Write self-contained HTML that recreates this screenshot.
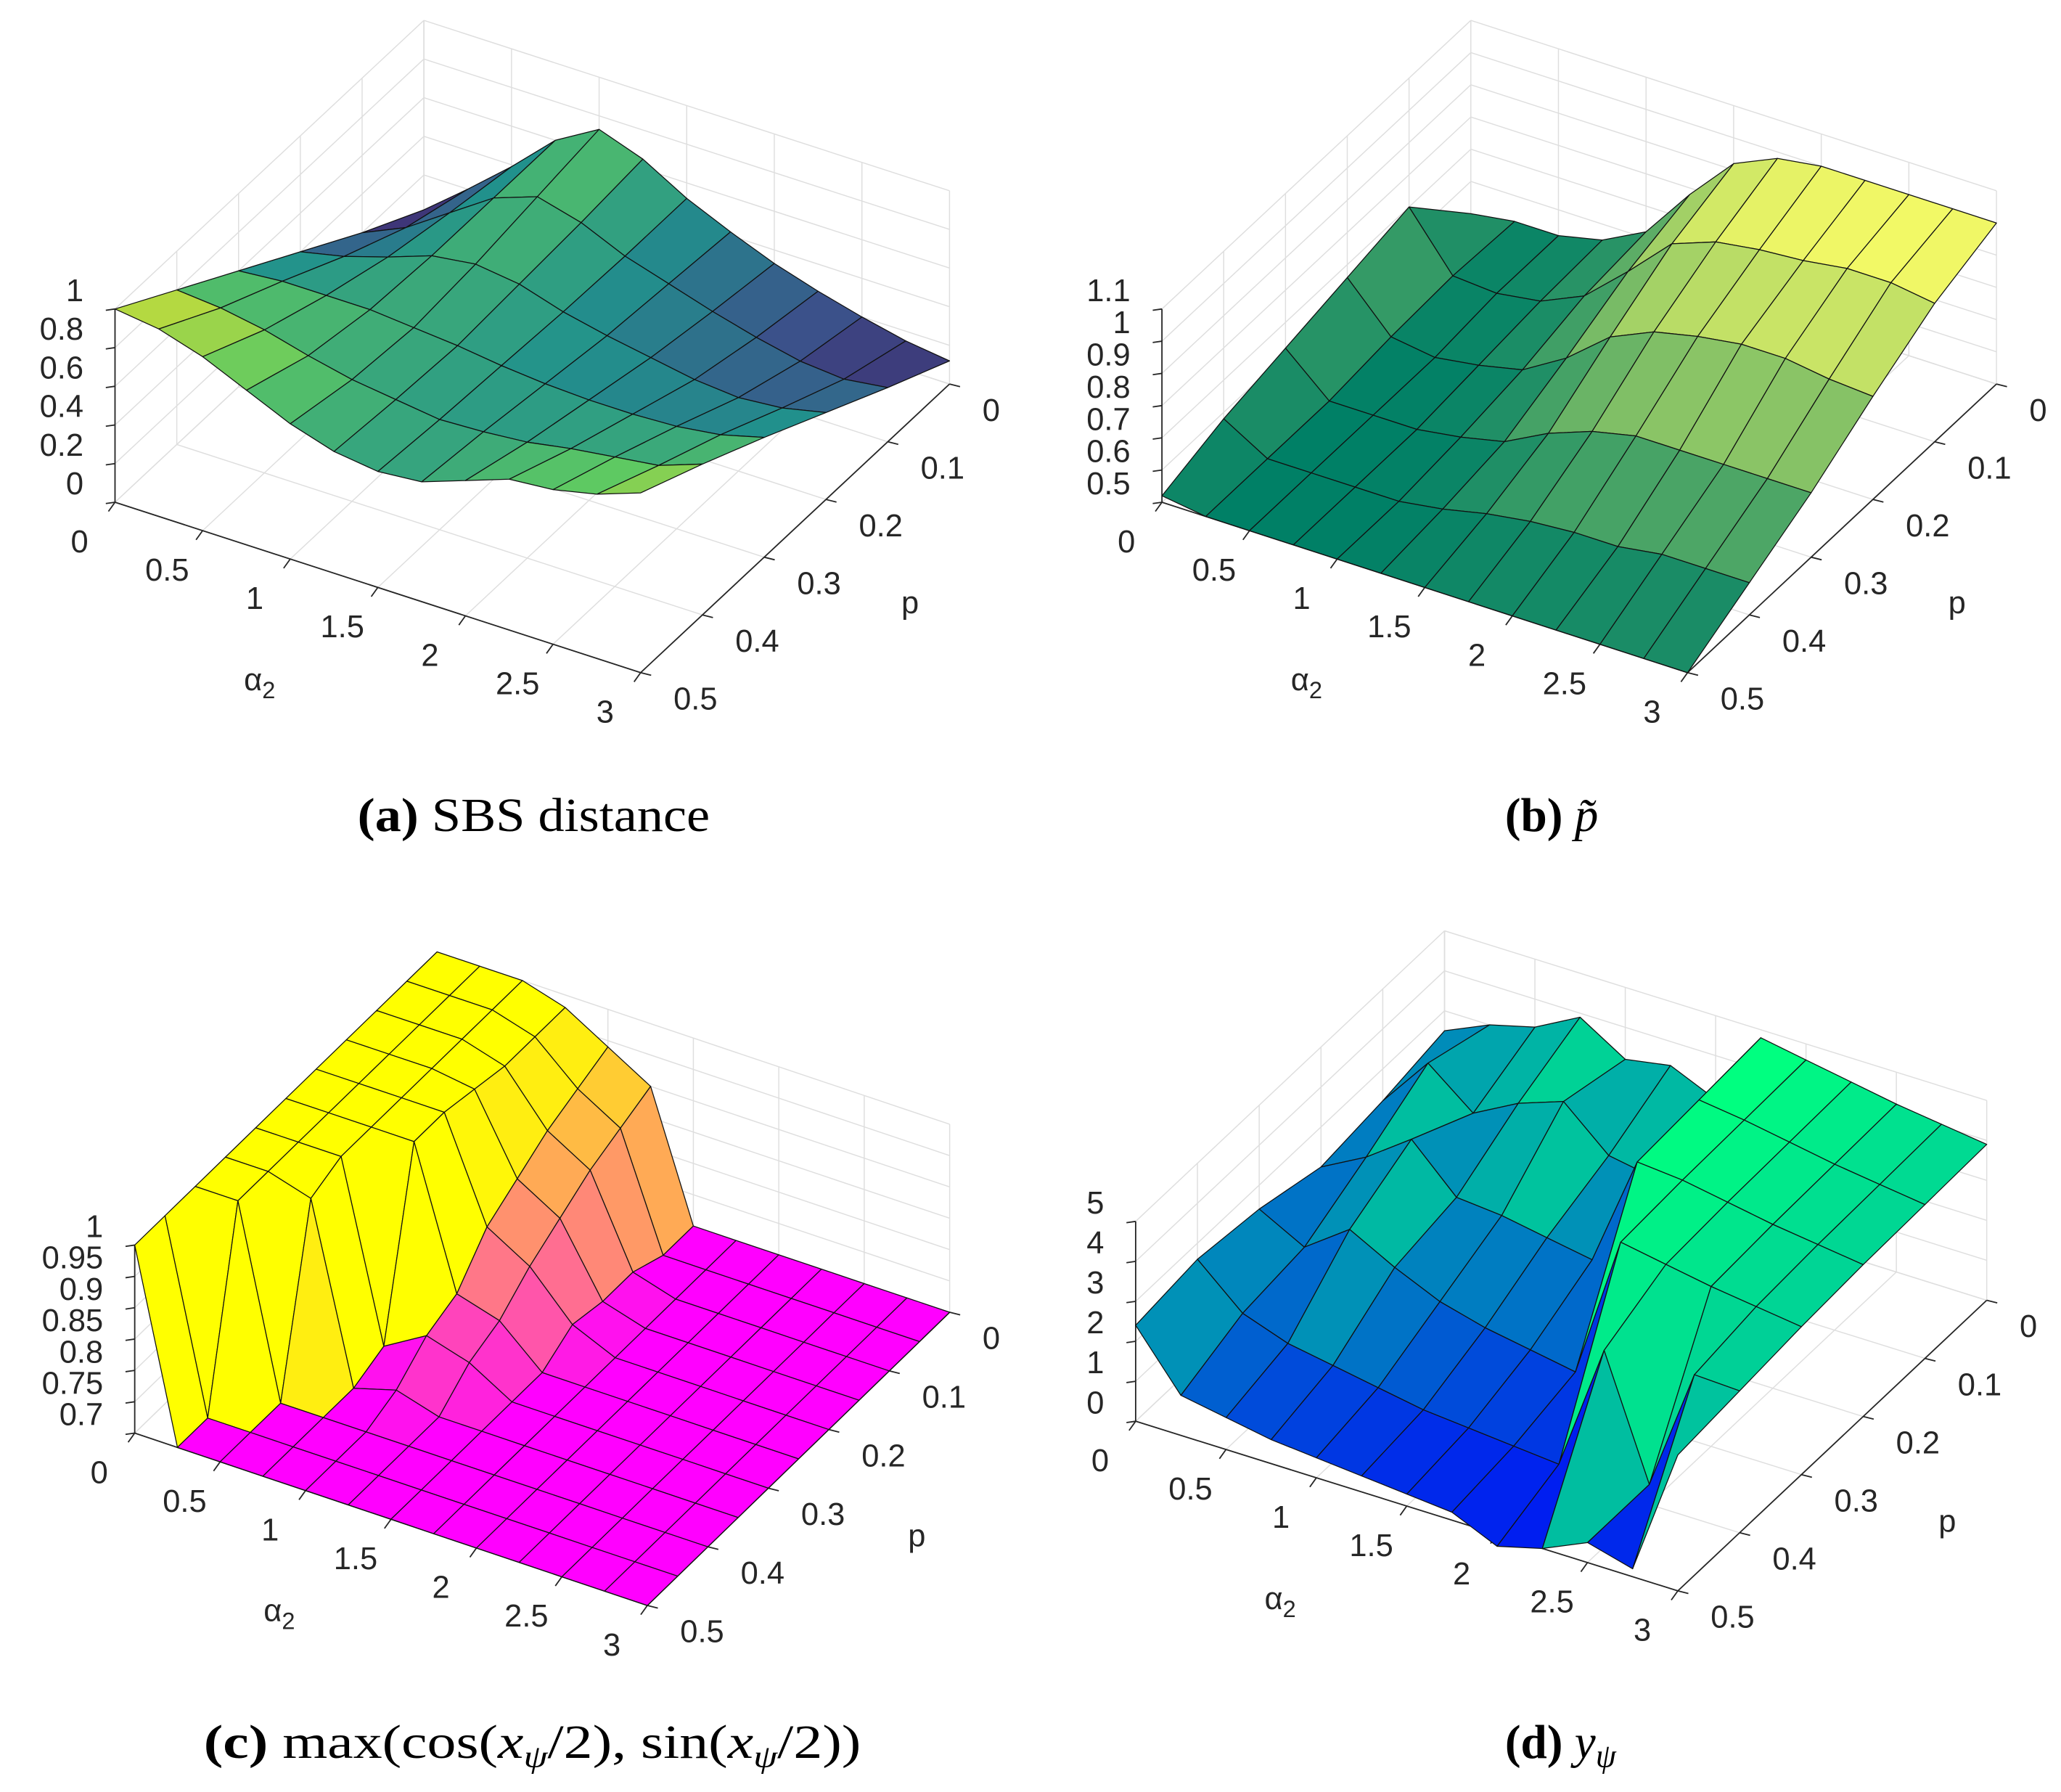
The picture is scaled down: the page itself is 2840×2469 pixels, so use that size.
<!DOCTYPE html>
<html><head><meta charset="utf-8"><style>
html,body{margin:0;padding:0;background:#fff;}
svg{display:block;}
.tk{font-family:"Liberation Sans",sans-serif;font-size:24px;fill:#262626;}
.cap{font-family:"Liberation Serif",serif;font-size:36px;fill:#000;}
</style></head><body>
<svg id="fig" xmlns="http://www.w3.org/2000/svg" width="2840" height="2469" viewBox="0 0 1568 1363" preserveAspectRatio="none">
<rect x="0" y="0" width="1568" height="1363" fill="#fff"/>
<g id="plotA"></g>
<g id="plotB"></g>
<g id="plotC"></g>
<g id="plotD"></g>
<text class="cap" x="272" y="632" textLength="268" lengthAdjust="spacingAndGlyphs"><tspan font-weight="bold">(a)</tspan> SBS distance</text>
<text class="cap" x="1145" y="632" font-size="38"><tspan font-weight="bold">(b)</tspan> <tspan font-style="italic">p̃</tspan></text>
<text class="cap" x="155" y="1337" textLength="500" lengthAdjust="spacingAndGlyphs"><tspan font-weight="bold">(c)</tspan> max(cos(<tspan font-style="italic">x</tspan><tspan font-style="italic" font-size="24" dy="7">ψ</tspan><tspan dy="-7">/2), sin(</tspan><tspan font-style="italic">x</tspan><tspan font-style="italic" font-size="24" dy="7">ψ</tspan><tspan dy="-7">/2))</tspan></text>
<text class="cap" x="1145" y="1337" font-size="38"><tspan font-weight="bold">(d)</tspan> <tspan font-style="italic">y</tspan><tspan font-style="italic" font-size="25" dy="7">ψ</tspan></text>
</svg>
<script>
// ---- data ----
const alphaVals = [0,0.25,0.5,0.75,1,1.25,1.5,1.75,2,2.25,2.5,2.75,3];
const pVals = [0,0.1,0.2,0.3,0.4,0.5];
const pValsFine = [0,0.05,0.1,0.15,0.2,0.25,0.3,0.35,0.4,0.45,0.5];
const alphaTicks = [0,0.5,1,1.5,2,2.5,3];
const alphaTickLabels = ["0","0.5","1","1.5","2","2.5","3"];
const pTicks = [0,0.1,0.2,0.3,0.4,0.5];
const pTickLabels = ["0","0.1","0.2","0.3","0.4","0.5"];
const zTicksA = [0,0.2,0.4,0.6,0.8,1];
const zLabelsA = ["0","0.2","0.4","0.6","0.8","1"];
const zTicksB = [0.5,0.6,0.7,0.8,0.9,1,1.1];
const zLabelsB = ["0.5","0.6","0.7","0.8","0.9","1","1.1"];
const zTicksC = [0.7,0.75,0.8,0.85,0.9,0.95,1];
const zLabelsC = ["0.7","0.75","0.8","0.85","0.9","0.95","1"];
const zTicksD = [0,1,2,3,4,5];
const zLabelsD = ["0","1","2","3","4","5"];
// rows: p values ; columns: alpha = 0 .. 3
const zA = [
[0.02,0.2,0.39,0.6,0.73,0.65,0.52,0.42,0.33,0.26,0.2,0.15,0.12],
[0.2,0.3,0.45,0.6,0.68,0.62,0.52,0.45,0.38,0.32,0.27,0.25,0.28],
[0.4,0.45,0.52,0.6,0.63,0.6,0.53,0.48,0.44,0.4,0.38,0.4,0.45],
[0.6,0.62,0.62,0.62,0.6,0.58,0.55,0.53,0.52,0.52,0.53,0.56,0.62],
[0.8,0.78,0.74,0.68,0.63,0.6,0.57,0.58,0.6,0.64,0.67,0.7,0.78],
[1.0,0.97,0.9,0.8,0.7,0.63,0.6,0.62,0.7,0.78,0.8,0.85,0.93]];
const zB = [
[0.5,0.52,0.52,0.55,0.62,0.78,0.92,0.98,1.0,1.0,1.0,1.0,1.0],
[0.7,0.53,0.52,0.54,0.6,0.72,0.85,0.9,0.92,0.93,0.95,0.95,0.93],
[0.66,0.52,0.5,0.52,0.55,0.63,0.74,0.8,0.83,0.85,0.85,0.83,0.82],
[0.62,0.5,0.5,0.5,0.52,0.55,0.62,0.67,0.7,0.7,0.7,0.7,0.7],
[0.58,0.5,0.5,0.5,0.5,0.52,0.55,0.57,0.58,0.58,0.6,0.6,0.6],
[0.52,0.5,0.5,0.5,0.5,0.5,0.5,0.5,0.5,0.5,0.5,0.5,0.5]];
const zC = [
[1,1,1,0.98,0.94,0.9,0.7,0.7,0.7,0.7,0.7,0.7,0.7],
[1,1,1,0.98,0.92,0.88,0.7,0.7,0.7,0.7,0.7,0.7,0.7],
[1,1,1,0.98,0.9,0.86,0.72,0.7,0.7,0.7,0.7,0.7,0.7],
[1,1,1,0.99,0.87,0.83,0.72,0.7,0.7,0.7,0.7,0.7,0.7],
[1,1,1,1,0.84,0.8,0.73,0.7,0.7,0.7,0.7,0.7,0.7],
[1,1,1,1,0.78,0.76,0.7,0.7,0.7,0.7,0.7,0.7,0.7],
[1,1,1,0.72,0.76,0.74,0.7,0.7,0.7,0.7,0.7,0.7,0.7],
[1,1,0.98,0.7,0.72,0.7,0.7,0.7,0.7,0.7,0.7,0.7,0.7],
[1,1,0.7,0.7,0.7,0.7,0.7,0.7,0.7,0.7,0.7,0.7,0.7],
[1,0.7,0.7,0.7,0.7,0.7,0.7,0.7,0.7,0.7,0.7,0.7,0.7],
[1,0.7,0.7,0.7,0.7,0.7,0.7,0.7,0.7,0.7,0.7,0.7,0.7]];
const zD = [
[2.5,3.0,3.3,3.9,3.2,3.4,2.9,4.8,4.6,4.4,4.2,4.05,3.9],
[2.2,3.5,2.6,3.2,3.6,2.6,2.4,4.7,4.55,4.35,4.15,4.0,3.85],
[2.0,2.6,3.4,2.3,2.2,2.0,1.8,4.6,4.5,4.3,4.1,3.95,3.8],
[2.4,1.8,2.6,2.0,1.5,1.2,1.0,0.8,4.4,4.2,4.0,3.85,3.7],
[2.6,1.6,1.2,1.0,0.8,0.6,0.5,0.4,0.3,3.5,0.5,3.6,3.55],
[2.4,1.0,0.8,0.6,0.5,0.4,0.3,0.2,-0.3,0.0,0.5,0.2,3.4]];

// ---- rendering ----
const NS = "http://www.w3.org/2000/svg";
function viridis(t){const s=[[68,1,84],[59,82,139],[33,145,140],[94,201,98],[253,231,37]];
  t=Math.max(0,Math.min(1,t))*4;const i=Math.min(3,Math.floor(t)),f=t-i;
  return s[i].map((v,k)=>Math.round(v+(s[i+1][k]-v)*f));}
function summer(t){return [Math.round(255*t),Math.round(255*(0.5+0.5*t)),102];}
function spring(t){return [255,Math.round(255*t),Math.round(255*(1-t))];}
function winter(t){return [0,Math.round(255*t),Math.round(255*(1-t/2))];}
function P(c,a,p,z){const q=0.5-p;return [c.ox+c.ax*a+c.qx*q, c.oy+c.ay*a+c.qy*q-(z-c.zmin)/(c.zmax-c.zmin)*c.zh];}
function line(g,p1,p2,col,w,name){const l=document.createElementNS(NS,'line');
  l.setAttribute('x1',p1[0]);l.setAttribute('y1',p1[1]);l.setAttribute('x2',p2[0]);l.setAttribute('y2',p2[1]);
  l.setAttribute('stroke',col);l.setAttribute('stroke-width',w);
  
  
  g.appendChild(l);}
function text(g,x,y,s,anchor,name){const t=document.createElementNS(NS,'text');
  t.setAttribute('x',x);t.setAttribute('y',y);t.setAttribute('class','tk');t.setAttribute('text-anchor',anchor);
  t.textContent=s;
  
  
  g.appendChild(t);return t;}
function drawPlot(g,c,Z,pv,zTicks,zLabels,cmap,mode){
  const gc='#dedede',gw=0.8,ac='#262626';
  for(const a of alphaTicks){line(g,P(c,a,0.5,c.zmin),P(c,a,0,c.zmin),gc,gw,'floor-gridline');
    line(g,P(c,a,0,c.zmin),P(c,a,0,c.zmax),gc,gw,'back-wall-gridline');}
  for(const p of pTicks){line(g,P(c,0,p,c.zmin),P(c,3,p,c.zmin),gc,gw,'floor-gridline');
    line(g,P(c,0,p,c.zmin),P(c,0,p,c.zmax),gc,gw,'side-wall-gridline');}
  for(const z of zTicks){line(g,P(c,0,0.5,z),P(c,0,0,z),gc,gw,'side-wall-gridline');
    line(g,P(c,0,0,z),P(c,3,0,z),gc,gw,'back-wall-gridline');}
  line(g,P(c,0,0,c.zmax),P(c,0,0,c.zmin),gc,gw,'box-edge');
  line(g,P(c,0,0.5,c.zmin),P(c,0,0.5,c.zmax),ac,1,'z-axis');
  line(g,P(c,0,0.5,c.zmin),P(c,3,0.5,c.zmin),ac,1,'alpha-axis');
  line(g,P(c,3,0.5,c.zmin),P(c,3,0,c.zmin),ac,1,'p-axis');
  zTicks.forEach((z,i)=>{const q=P(c,0,0.5,z);
    line(g,q,[q[0]-7,q[1]+1],ac,1,'z-tick');
    text(g,q[0]-24,q[1]-14+8,zLabels[i],'end','z-tick-label');});
  alphaTicks.forEach((a,i)=>{const q=P(c,a,0.5,c.zmin);
    line(g,q,[q[0]-5,q[1]+7],ac,1,'alpha-tick');
    text(g,q[0]-27,q[1]+30+8,alphaTickLabels[i],'middle','alpha-tick-label');});
  pTicks.forEach((p,i)=>{const q=P(c,3,p,c.zmin);
    line(g,q,[q[0]+8,q[1]+2],ac,1,'p-tick');
    text(g,q[0]+25,q[1]+20+8,pTickLabels[i],'start','p-tick-label');});
  const o=P(c,0,0.5,c.zmin),e=P(c,3,0.5,c.zmin);
  const al=text(g,o[0]+110,o[1]+135+8,'α','middle','alpha2-axis-title');
  al.setAttribute('font-size','27');
  const sub=document.createElementNS(NS,'tspan');sub.setAttribute('font-size','18');sub.setAttribute('dy','6');sub.textContent='2';
  
  
  al.appendChild(sub);
  const pt=text(g,e[0]+205,e[1]-53+8,'p','middle','p-axis-title');
  pt.setAttribute('font-size','27');
  let mn=Infinity,mx=-Infinity;Z.forEach(r=>r.forEach(v=>{mn=Math.min(mn,v);mx=Math.max(mx,v);}));
  const quads=[];
  for(let i=0;i<pv.length-1;i++)for(let j=0;j<alphaVals.length-1;j++){
    const cs=[[j,i],[j+1,i],[j+1,i+1],[j,i+1]];
    const pts=cs.map(([jj,ii])=>P(c,alphaVals[jj],pv[ii],Z[ii][jj]));
    const zc=mode==='avg'?cs.reduce((s,[jj,ii])=>s+Z[ii][jj],0)/4:Z[i][j];
    const b=P(c,(alphaVals[j]+alphaVals[j+1])/2,(pv[i]+pv[i+1])/2,c.zmin);
    quads.push({pts,zc,d:b[1]});}
  quads.sort((u,v)=>u.d-v.d);
  for(const qd of quads){const col=cmap((qd.zc-mn)/(mx-mn||1));
    const pg=document.createElementNS(NS,'polygon');
    pg.setAttribute('points',qd.pts.map(p=>p[0].toFixed(1)+','+p[1].toFixed(1)).join(' '));
    pg.setAttribute('fill','rgb('+col.join(',')+')');pg.setAttribute('stroke','#111');pg.setAttribute('stroke-width','0.7');
    pg.setAttribute('stroke-linejoin','round');
    
    
    g.appendChild(pg);}
}
const cA={ox:87.5,oy:382,ax:133.3,ay:43.2,qx:470,qy:-439,zh:147,zmin:0,zmax:1};
const cB={ox:884,oy:382,ax:133.3,ay:43.2,qx:470,qy:-439,zh:147,zmin:0.5,zmax:1.1};
const cC={ox:102.5,oy:1090,ax:130,ay:43.7,qx:460,qy:-446,zh:143,zmin:0.7,zmax:1};
const cD={ox:864,oy:1081,ax:137.5,ay:43,qx:470,qy:-442,zh:152,zmin:0,zmax:5};
drawPlot(document.getElementById('plotA'),cA,zA,pVals,zTicksA,zLabelsA,viridis,'avg');
drawPlot(document.getElementById('plotB'),cB,zB,pVals,zTicksB,zLabelsB,summer,'avg');
drawPlot(document.getElementById('plotC'),cC,zC,pValsFine,zTicksC,zLabelsC,spring,'first');
drawPlot(document.getElementById('plotD'),cD,zD,pVals,zTicksD,zLabelsD,winter,'first');
</script>
</body></html>
